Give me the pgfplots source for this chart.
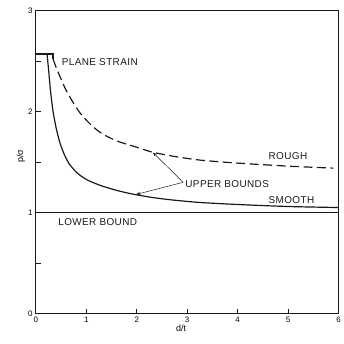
\documentclass[border=0pt]{standalone}
\usepackage{fontspec}
\setmainfont{Liberation Sans}
\newfontfamily\lblfont[LetterSpace=4]{Liberation Sans}
\usepackage{pgfplots}
\pgfplotsset{compat=1.18}
\usetikzlibrary{arrows.meta}
\begin{document}
\begin{tikzpicture}
\begin{axis}[
  scale only axis, width=303bp, height=303.3bp,
  xmin=0, xmax=6, ymin=0, ymax=3,
  clip=false,
  axis line style={line width=1.1pt, black!90},
  xtick={0,1,2,3,4,5,6}, ytick={0,1,2,3}, minor ytick={0.5,1.5,2.5},
  xtick pos=bottom, ytick pos=left, tick align=inside,
  major tick length=5bp, minor tick length=5bp,
  every tick/.style={line width=0.9pt, black!90},
  tick label style={font=\fontsize{8}{9}\selectfont},
  /pgf/number format/assume math mode=true,
  xlabel={d/t}, ylabel={p/σ},
  every axis x label/.style={at={(axis description cs:0.48,-0.05)}, anchor=center, font=\fontsize{9}{10}\selectfont},
  every axis y label/.style={at={(axis description cs:-0.05,0.52)}, anchor=center, rotate=90, font=\fontsize{9}{10}\selectfont},
]
\path (rel axis cs:-0.1188,-0.0989) rectangle (rel axis cs:1.0165,1.0353);
% lower bound
\addplot[black!90, line width=1.4pt] coordinates {(0,1) (6,1)};
% smooth upper bound (with plane strain plateau)
\addplot[black!90, line width=1.2pt, smooth, tension=0.4] coordinates {
(0.22,2.57) (0.25,2.42) (0.29,2.2) (0.34,2.0) (0.40,1.84) (0.47,1.70) (0.55,1.59)
(0.65,1.49) (0.78,1.41) (0.9,1.36) (1.05,1.315) (1.3,1.265) (1.6,1.22) (1.9,1.185)
(2.3,1.15) (2.7,1.125) (3.25,1.10) (4.0,1.08) (5.0,1.06) (6.0,1.05)};
\addplot[black!90, line width=1.2pt] coordinates {(0,2.57) (0.34,2.57) (0.34,2.52)};
% rough upper bound
\addplot[black!90, line width=1.2pt, dash pattern=on 9bp off 4.5bp, smooth, tension=0.4] coordinates {
(0.34,2.52) (0.40,2.44) (0.5,2.32) (0.6,2.21) (0.75,2.08) (0.9,1.97) (1.1,1.865)
(1.3,1.785) (1.6,1.71) (1.95,1.655) (2.3,1.60) (2.7,1.56) (3.25,1.52) (4.0,1.49)
(5.0,1.46) (5.9,1.44)};
% arrows
\draw[-{Stealth[length=4pt,width=3pt]}, line width=0.5pt, black!90] (axis cs:2.92,1.30) -- (axis cs:2.32,1.595);
\draw[-{Stealth[length=4pt,width=3pt]}, line width=0.5pt, black!90] (axis cs:2.92,1.30) -- (axis cs:1.99,1.18);
% labels
\begin{scope}[every node/.style={inner sep=0pt, anchor=west, font=\lblfont\fontsize{10}{11}\selectfont, black!90}]
\node at (axis cs:0.51,2.49) {PLANE STRAIN};
\node at (axis cs:4.61,1.56) {ROUGH};
\node at (axis cs:4.61,1.12) {SMOOTH};
\node at (axis cs:0.44,0.91) {LOWER BOUND};
\node at (axis cs:2.96,1.28) {UPPER BOUNDS};
\end{scope}
\end{axis}
\end{tikzpicture}
\end{document}
